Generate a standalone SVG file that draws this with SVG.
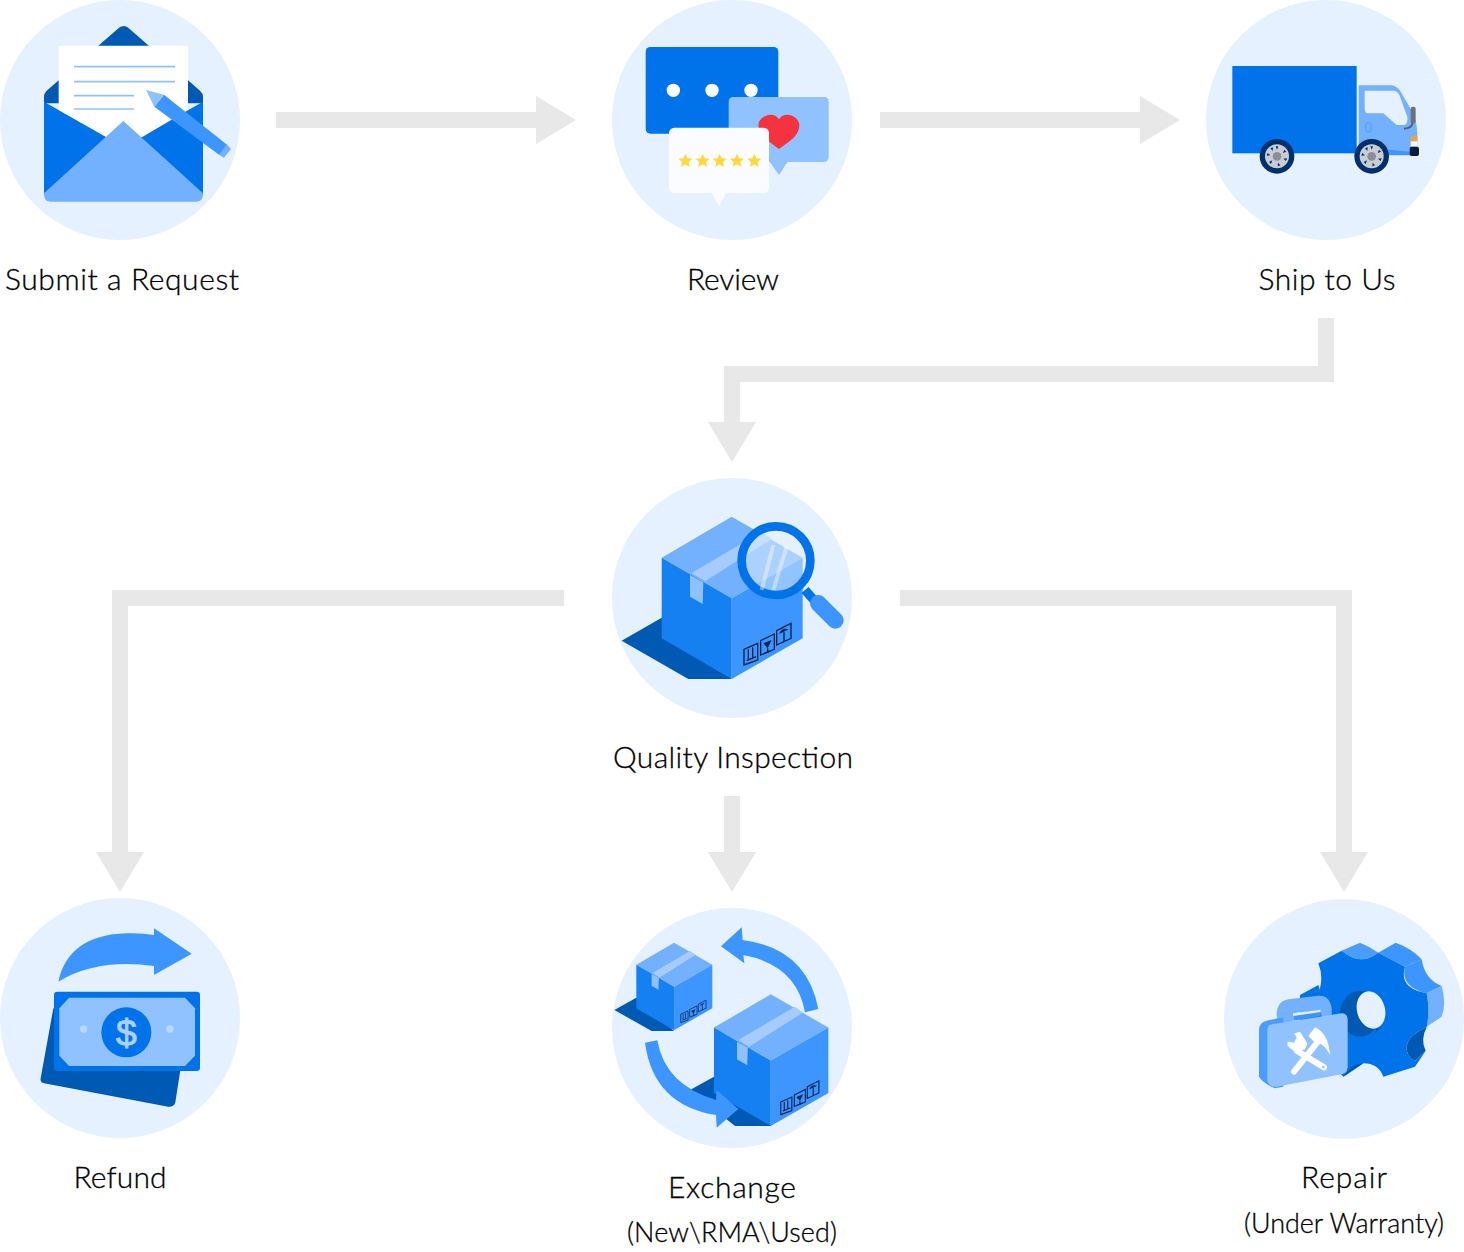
<svg xmlns="http://www.w3.org/2000/svg" width="1464" height="1252" viewBox="0 0 1464 1252">
<style>
.bg{fill:#e5f1ff}
.d{fill:#0059b3}.m{fill:#0073ea}.b{fill:#3d96ff}.l{fill:#73b1ff}.p{fill:#90c2ff}.w{fill:#fff}
.flow{fill:none;stroke:#e8e8e8;stroke-width:16;stroke-linejoin:miter}
.t{font-family:"Lato","Liberation Sans",sans-serif;font-size:30px;fill:#000;stroke:#000;stroke-width:.3px;text-anchor:middle;font-weight:300}
.s{font-size:27px}
.ln{stroke:#8fc1ff;stroke-width:5;fill:none}
.lab{fill:none;stroke:#00244f;stroke-width:4}
</style>
<defs>
<marker id="head" markerUnits="userSpaceOnUse" markerWidth="42" markerHeight="48" refX="0" refY="24" orient="auto" overflow="visible"><path d="M0 0L40 24L0 48z" fill="#e8e8e8"/></marker>
<path id="star" d="M0-21L6-7L21-6L10 4L13 19L0 11L-13 19L-10 4L-21-6L-6-7z" fill="#ffd83a"/>
<g id="box">
<path d="M210 0L423 123L210 245L0 123z" class="l"/>
<path d="M0 123L210 245V487L0 365z" fill="#1480f2"/>
<path d="M210 245L423 123V365L210 487z" class="b"/>
<path d="M90 169L299 46L330 67L130 194z" fill="#a6ccff"/>
<path d="M85 175L125 197L123 262L85 240z" fill="#8fc1ff"/>
<g class="lab"><path d="M247 398L288 380V430L247 445z"/><path d="M297 372L338 352V398L297 415z"/><path d="M345 342L388 320V365L345 385z"/><path d="M260 398V428M273 392V422M255 432L283 420M318 395V408M308 410L327 402M367 345V375"/></g>
<path d="M305 380L330 370L318 395zM352 352Q360 332 381 338z" fill="#00244f"/>
</g>
<g id="wheel">
<circle r="52" fill="#00306b"/><circle r="36" fill="#c9cdd3"/>
<path d="M-4-30h8l-4 10zM22-20l6 6-10 4zM30 6l-3 8-8-7zM10 27l-8 3 1-11zM-18 23l-6-6 10-5zM-31-2l3-8 8 7zM-20-24l8-3-1 11z" fill="#00306b"/>
<circle r="13" fill="#8a8f96"/>
</g>
</defs>

<g id="connectors">
<polyline class="flow" points="276,120 536,120" marker-end="url(#head)"/>
<polyline class="flow" points="880,120 1140,120" marker-end="url(#head)"/>
<polyline class="flow" points="1326,318 1326,374 732,374 732,422" marker-end="url(#head)"/>
<polyline class="flow" points="564,598 120,598 120,852" marker-end="url(#head)"/>
<polyline class="flow" points="732,796 732,852" marker-end="url(#head)"/>
<polyline class="flow" points="900,598 1344,598 1344,852" marker-end="url(#head)"/>
</g>

<g id="node-submit">
<circle class="bg" cx="120" cy="120" r="120"/>
<g transform="scale(.33333)">
<path class="d" d="M132 310V290Q132 280 140 272L352 88Q371 68 390 88L600 272Q609 280 609 290V310z"/>
<path class="m" d="M132 305L370 440L609 305V585H132z"/>
<path class="w" d="M176 137H564V330L428 410L370 440L318 410L176 330z"/>
<path class="ln" d="M222 200H525M222 245H525M222 287H402M222 327H402"/>
<path class="l" d="M370 363L609 580Q609 605 590 605H150Q132 605 132 580z"/>
<path class="b" d="M492 284L682 435L658 465L463 320z"/>
<path class="p" d="M438 270L492 284L463 320z"/>
<path class="l" d="M680 433L693 447L672 473L658 465z"/>
</g>
<text class="t" x="122" y="290" textLength="234">Submit a Request</text>
</g>

<g id="node-review">
<circle class="bg" cx="732" cy="120" r="120"/>
<g transform="translate(610 0) scale(.33333)">
<rect class="m" x="107" y="141" width="398" height="260" rx="14"/>
<g class="w"><circle cx="190" cy="271" r="20"/><circle cx="306" cy="271" r="20"/><circle cx="423" cy="271" r="20"/></g>
<rect class="p" x="356" y="291" width="300" height="195" rx="14"/>
<path class="p" d="M478 484H534L507 525z"/>
<path d="M507 447C470 420 445 405 445 375C445 350 490 330 507 358C524 330 568 350 568 375C568 405 545 420 507 447z" fill="#f5333f"/>
<rect x="177" y="383" width="300" height="196" rx="16" fill="#fafcff"/>
<path d="M303 577H350L327 618z" fill="#fafcff"/>
<use href="#star" x="226" y="482"/><use href="#star" x="278" y="482"/><use href="#star" x="329" y="482"/><use href="#star" x="381" y="482"/><use href="#star" x="433" y="482"/>
</g>
<text class="t" x="733" y="290" textLength="92">Review</text>
</g>

<g id="node-ship">
<circle class="bg" cx="1326" cy="120" r="120"/>
<g transform="translate(1200 0) scale(.33333)">
<rect class="m" x="97" y="198" width="373" height="262"/>
<path class="l" d="M476 256H575Q590 258 600 272L640 340Q652 370 652 410V460H476z"/>
<path class="b" d="M476 440L630 455V466H476z"/>
<path class="bg" d="M494 272H580Q592 272 598 285L622 350Q625 375 610 375H590L550 340H505Q494 340 494 325z"/>
<rect x="497" y="368" width="16" height="28" rx="7" fill="none" stroke="#3d96ff" stroke-width="2"/>
<rect x="632" y="320" width="15" height="50" rx="6" fill="#6e7277"/>
<path d="M638 368Q636 385 612 386" fill="none" stroke="#5a6068" stroke-width="6"/>
<rect x="632" y="408" width="20" height="16" fill="#f5a13b"/>
<rect x="632" y="424" width="20" height="16" fill="#f2f5f8"/>
<rect x="629" y="440" width="28" height="28" rx="6" fill="#0a1a3a"/>
<use href="#wheel" x="231" y="469"/><use href="#wheel" x="515" y="469"/>
</g>
<text class="t" x="1327" y="290" textLength="137">Ship to Us</text>
</g>

<g id="node-inspection">
<circle class="bg" cx="732" cy="598" r="120"/>
<g transform="translate(610 475) scale(.33333)">
<path class="d" d="M155 428L35 497L235 612H365z"/>
<use href="#box" x="155" y="125"/>
<path d="M585 345L625 390" stroke="#0073ea" stroke-width="28"/>
<path d="M625 385L676 436" stroke="#3d96ff" stroke-width="50" stroke-linecap="round"/>
<circle cx="498" cy="257" r="103" fill="#e5f1ff" fill-opacity=".5" stroke="#0073ea" stroke-width="26"/>
<path d="M490 210L455 345M530 215L490 345" stroke="#fff" stroke-opacity=".4" stroke-width="12" fill="none"/>
</g>
<text class="t" x="733" y="768" textLength="240">Quality Inspection</text>
</g>

<g id="node-refund">
<circle class="bg" cx="120" cy="1018" r="120"/>
<g transform="translate(0 895) scale(.33333)">
<path class="b" d="M175 260Q205 120 380 115Q420 113 462 120V100L575 176L462 240V213Q290 190 175 260z"/>
<path class="d" d="M160 340L122 550Q120 562 132 565L505 635Q522 637 526 622L545 500z"/>
<rect class="m" x="162" y="290" width="438" height="238" rx="10"/>
<path class="p" d="M207 308H555L585 340V482L555 513H207L178 482V340z"/>
<circle class="m" cx="379" cy="412" r="75"/>
<circle cx="251" cy="402" r="11" fill="#b8d8ff"/><circle cx="510" cy="402" r="11" fill="#b8d8ff"/>
<text x="379" y="452" font-family="'Liberation Sans',sans-serif" font-size="112" fill="#a9d0ff" stroke="#a9d0ff" stroke-width="3" text-anchor="middle">$</text>
</g>
<text class="t" x="120" y="1188" textLength="93">Refund</text>
</g>

<g id="node-exchange">
<circle class="bg" cx="732" cy="1028" r="120"/>
<g transform="translate(610 905) scale(.33333)">
<path class="d" d="M79 278L13 315L125 378H192z"/>
<use href="#box" transform="translate(79 113) scale(.539)"/>
<path class="d" d="M312 515L240 555L375 663H485z"/>
<use href="#box" transform="translate(312 268) scale(.811)"/>
<path class="b" d="M585 322Q560 180 400 150L403 175L333 124L395 67L398 105Q590 130 625 312z"/>
<path class="b" d="M105 413L142 406Q165 540 318 585L320 555L385 612L320 668L318 630Q130 600 105 413z"/>
</g>
<text class="t" x="732" y="1198" textLength="128">Exchange</text>
<text class="t s" x="732" y="1242" textLength="210">(New\RMA\Used)</text>
</g>

<g id="node-repair">
<circle class="bg" cx="1344" cy="1019" r="120"/>
<g transform="translate(1250 930) scale(.33333)">
<path class="m" d="M150 195L205 165L230 250L280 440L150 300z"/>
<path fill="#4a9cff" d="M275 62L330 38Q360 50 385 68Q330 110 275 62z"/>
<path class="b" d="M385 68L437 38Q485 55 515 88L465 110z"/>
<path class="b" d="M465 110L515 88Q525 150 575 168L530 190Q450 170 465 110z"/>
<path class="l" d="M530 190L575 168Q590 220 575 260L530 290Q540 240 530 190z"/>
<path class="m" d="M205 100L275 62Q330 110 385 68L465 110Q445 175 530 190Q540 240 530 292Q465 320 470 360Q475 385 495 392L527 362L495 410L400 440Q385 400 340 400L280 440L230 360Q180 300 200 200Q225 150 205 100z"/>
<path class="d" d="M530 292Q465 320 470 360Q475 385 495 392L527 362Q510 330 530 292z"/>
<path class="d" d="M280 440L340 400Q310 402 295 420z"/>
<ellipse class="d" cx="330" cy="251" rx="60" ry="69"/>
<ellipse class="bg" cx="363" cy="240" rx="42" ry="57" transform="rotate(-15 363 240)"/>
<path class="d" d="M380 295L392 292L375 310z"/>
<path class="l" d="M80 255Q80 215 115 208L205 197Q240 195 245 235V258L215 264L212 240L130 250L128 278L85 286z"/>
<path class="bg" d="M130 250L212 239V248L130 260z"/>
<path class="b" d="M130 258L212 246V258L130 272z"/>
<path fill="#4a9cff" d="M27 300Q27 278 50 272L100 262V470L75 475Q40 460 27 440z"/>
<path class="p" d="M52 300Q52 285 70 282L275 250Q293 250 293 270V410Q293 428 278 432L80 470Q55 472 52 450z"/>
<g fill="none" stroke="#fff" stroke-width="18" stroke-linecap="round">
<path d="M132 425L208 330"/>
<path d="M140 362L222 412"/>
</g>
<path class="w" d="M175 318L195 292Q235 310 240 375Q225 345 205 340L195 338z"/>
<path class="w" d="M150 305Q112 312 112 345Q130 372 165 358L172 340z"/>
<path class="p" d="M108 334L132 338L140 322L130 308L105 312z"/>
<circle cx="220" cy="411" r="4" class="p"/>
</g>
<text class="t" x="1344" y="1188" textLength="86">Repair</text>
<text class="t s" x="1344" y="1233" textLength="200">(Under Warranty)</text>
</g>
</svg>
